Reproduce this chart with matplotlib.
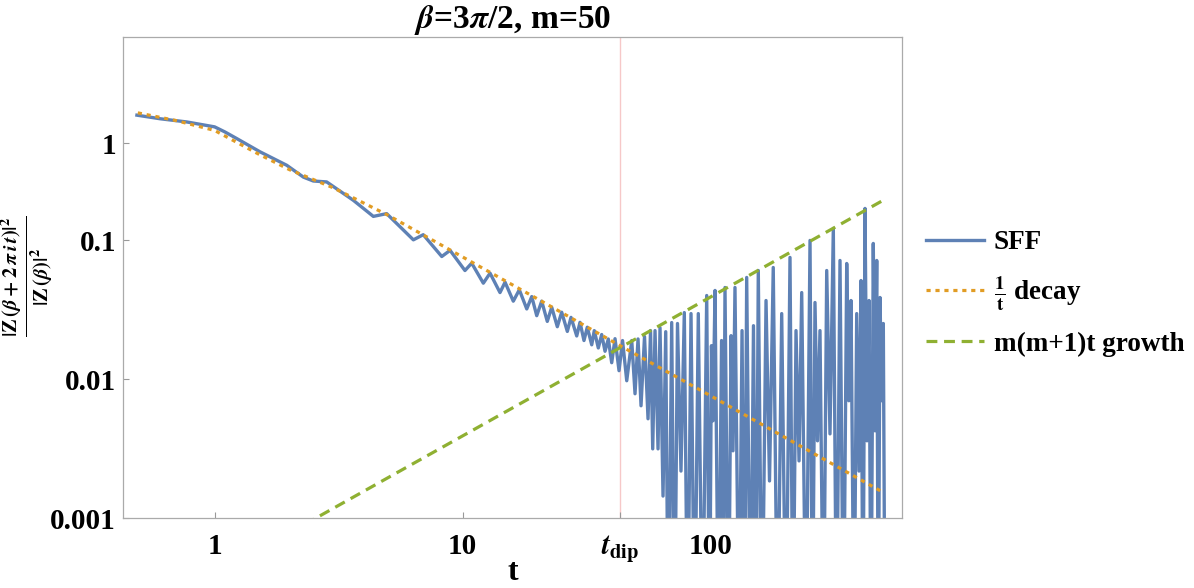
import matplotlib
matplotlib.use("Agg")
import matplotlib.pyplot as plt
from matplotlib.ticker import NullLocator, FixedLocator, FixedFormatter

plt.rcParams['font.family'] = 'serif'
plt.rcParams['font.serif'] = ['Liberation Serif', 'DejaVu Serif']
plt.rcParams['font.weight'] = 'bold'
plt.rcParams['mathtext.fontset'] = 'stix'

# spectral form factor (troughs below 0.001 are clipped)
sff_t = [0.486, 0.602, 0.772, 1.0, 1.1, 1.228, 1.524, 1.953, 2.279, 2.50, 2.83, 3.625,
         4.365, 4.94, 6.33, 6.94, 8.24, 8.90, 10.22, 10.88, 12.12, 12.90, 14.15,
         14.83, 16.01, 16.93, 18.14, 19.00, 19.90, 20.84, 21.95, 22.87, 24.09,
         25.09, 26.44, 27.36, 28.85, 29.74, 30.86, 31.82, 33.16, 33.96, 35.25,
         36.38, 37.52, 38.68, 39.92, 41.17, 42.73, 44.15, 45.90, 48.08, 49.57,
         50.97, 52.41, 54.14, 55.93, 57.25, 58.42, 59.69, 61.37, 62.52, 64.29,
         65.92, 67.51, 69.68, 71.57, 73.53, 75.95, 78.34, 80.78, 83.37, 86.19,
         89.20, 92.75, 96.45, 99.0, 100.8, 102.2, 104.2, 107.6, 110.7, 112.2,
         114.3, 118.1, 120.9, 123.1, 125.4, 130.2, 133.9, 137.0, 139.8, 144.9,
         148.9, 152.5, 155.7, 161.2, 167.3, 172.8, 178.9, 186.2, 193.5, 201.4,
         209.0, 214.9, 221.0, 227.3, 233.0, 242.5, 251.7, 257.6, 263.6, 269.8,
         276.1, 285.3, 293.9, 303.0, 312.5, 321.9, 332.5, 343.5, 353.9, 360.9,
         368.3, 378.7, 388.3, 396.7, 404.2, 411.7, 419.4, 427.2, 435.3, 443.5,
         452.9, 460.2, 467.6, 474.5, 482.1, 489.8, 497.1, 504.9]
sff_val = [0.799, 0.753, 0.714, 0.658, 0.605, 0.542, 0.435, 0.348, 0.286, 0.268, 0.264, 0.1946,
           0.149, 0.156, 0.101, 0.110, 0.0766, 0.0848, 0.0607, 0.0686, 0.0492, 0.0581, 0.0421,
           0.0500, 0.0365, 0.0441, 0.0321, 0.0394, 0.0287, 0.0365, 0.0261, 0.0330, 0.0239,
           0.0304, 0.0221, 0.0279, 0.0205, 0.0257, 0.0190, 0.0237, 0.0177, 0.0224, 0.0168,
           0.0210, 0.0159, 0.0195, 0.01315, 0.0196, 0.01152, 0.0190, 0.00975, 0.0190, 0.00786,
           0.0195, 0.00644, 0.0203, 0.00519, 0.0224, 0.00315, 0.0224, 0.00315, 0.0235, 0.00144,
           0.0220, 1e-4, 0.0256, 1e-4, 0.0252, 0.00218, 0.0302, 1e-4, 0.0297, 1e-4,
           0.0297, 1e-4, 0.0401, 1e-4, 0.01745, 0.00502, 0.0436, 1e-4, 0.0190, 1e-4,
           0.0458, 1e-4, 0.0206, 0.00305, 0.0458, 1e-4, 0.0224, 1e-4, 0.0541, 1e-4,
           0.0243, 1e-4, 0.0607, 1e-4, 0.0369, 0.00185, 0.0638, 1e-4, 0.0297, 1e-4,
           0.0754, 1e-4, 0.0224, 0.00258, 0.0421, 1e-4, 0.100, 1e-4, 0.0357, 0.00360,
           0.0224, 1e-4, 0.0607, 0.00404, 0.122, 1e-4, 0.0717, 1e-4, 0.0682, 0.00700,
           0.0369, 1e-4, 0.0297, 0.00218, 0.0514, 1e-4, 0.170, 0.00360, 0.0369, 1e-4,
           0.0951, 0.00425, 0.0717, 1e-4, 0.0388, 0.00700, 0.0252, 1e-4]

decay_t = [0.49, 0.7, 1.0, 1.5, 2.0, 3.0, 5.0, 10, 20, 43, 100, 200, 490]
decay_val = [0.83, 0.73, 0.62, 0.42, 0.324, 0.240, 0.152, 0.076, 0.038, 0.0175, 0.0076, 0.0038, 0.00155]

growth_t = [2.0, 505]
growth_val = [0.00078, 0.198]

t_dip = 43.2

fig = plt.figure(figsize=(11.94, 5.88), dpi=100)
ax = fig.add_axes([0.103, 0.119, 0.6524, 0.818])

ax.axvline(t_dip, color='#f6c8c8', lw=1.0, zorder=1)
ax.plot(sff_t, sff_val, color='#5e81b5', lw=2.4, solid_joinstyle='round', label='SFF', zorder=2)
ax.plot(decay_t, decay_val, color='#e19c24', lw=2.3, linestyle=(0, (1.3, 1.5)),
        label=r'$\frac{\mathbf{1}}{\mathbf{t}}$ decay', zorder=3)
ax.plot(growth_t, growth_val, color='#8fb032', lw=2.3, linestyle=(0, (3.4, 2.1)),
        label='m(m+1)t growth', zorder=4)

ax.set_xscale('log')
ax.set_yscale('log')
ax.set_xlim(0.427, 591)
ax.set_ylim(0.001, 2.92)

ax.xaxis.set_major_locator(FixedLocator([1, 10, t_dip, 100]))
ax.xaxis.set_major_formatter(FixedFormatter(['1', '10', r'$t_{\mathrm{dip}}$', '100']))
ax.xaxis.set_minor_locator(NullLocator())
# the "1" label sits lower than a true decade in the original picture
ax.yaxis.set_major_locator(FixedLocator([0.001, 0.01, 0.1, 0.50]))
ax.yaxis.set_major_formatter(FixedFormatter(['0.001', '0.01', '0.1', '1']))
ax.yaxis.set_minor_locator(NullLocator())

ax.tick_params(axis='both', direction='in', length=4, width=0.8, color='#999999', labelsize=21)
ax.tick_params(axis='x', pad=11)
ax.tick_params(axis='y', pad=5)
for s in ax.spines.values():
    s.set_color('#aaaaaa')
    s.set_linewidth(0.9)

ax.set_title(r'$\beta$=3$\pi$/2, m=50', fontsize=24, fontweight='bold', pad=4)
ax.set_xlabel('t', fontsize=23, fontweight='bold')
ax.xaxis.set_label_coords(0.5, -0.083)

# y label as a rotated fraction, placed by hand left of the tick labels
fig.text(0.022, 0.53,
         r'$\frac{|\mathbf{Z}\,(\beta+\mathbf{2}\,\pi\,i\,t)|^{\mathbf{2}}}{|\mathbf{Z}\,(\beta)|^{\mathbf{2}}}$',
         fontsize=21, rotation=90, ha='center', va='center')

leg = fig.legend(loc='center left', bbox_to_anchor=(0.755, 0.501), frameon=False,
                 fontsize=19.5, handlelength=2.15, handletextpad=0.35, labelspacing=0.7)

fig.savefig('out.png', dpi=100)
